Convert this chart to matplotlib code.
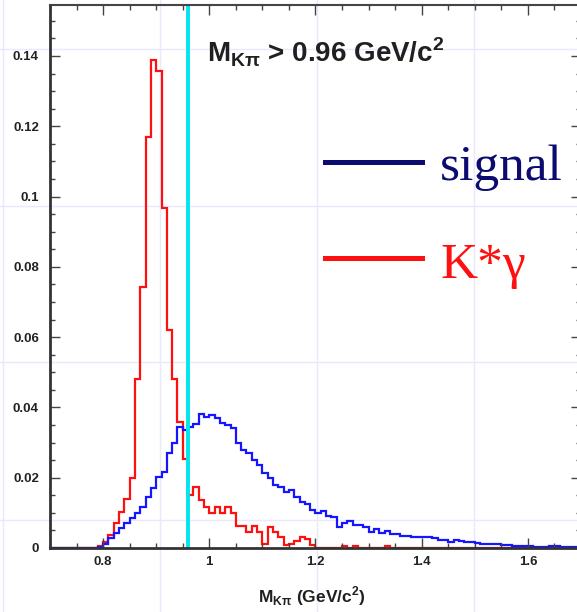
import numpy as np
import matplotlib.pyplot as plt
from matplotlib.lines import Line2D
from matplotlib.ticker import MultipleLocator

# histogram contents: 100 bins of width 0.01 between 0.7 and 1.7
bin_lo, bin_hi, n_bins = 0.7, 1.7, 100

signal = [0.0] * 9 + [
    0.0004, 0.0011, 0.0028, 0.0042, 0.0056, 0.0070, 0.0084, 0.0100, 0.0118, 0.0144,
    0.0170, 0.0201, 0.0217, 0.0271, 0.0298, 0.0345, 0.0336, 0.0345, 0.0353, 0.0381,
    0.0374, 0.0379, 0.0369, 0.0357, 0.0350, 0.0341, 0.0298, 0.0279, 0.0269, 0.0250,
    0.0236, 0.0212, 0.0198, 0.0179, 0.0173, 0.0160, 0.0165, 0.0146, 0.0132, 0.0125,
    0.0108, 0.0100, 0.0105, 0.0092, 0.0087, 0.0061, 0.0070, 0.0078, 0.0065, 0.0065,
    0.0061, 0.0046, 0.0053, 0.0044, 0.0048, 0.0040, 0.0040, 0.0034, 0.0034, 0.0030,
    0.0030, 0.0032, 0.0032, 0.0028, 0.0023, 0.0023, 0.0018, 0.0023, 0.0020, 0.0018,
    0.0018, 0.0013, 0.0011, 0.0011, 0.0011, 0.0010, 0.0009, 0.0008, 0.0006, 0.0006,
    0.0006, 0.0005, 0.0004, 0.0004, 0.0004, 0.0005, 0.0005, 0.0003, 0.0002, 0.0002,
    0.0002]

kstar_gamma = [0.0] * 9 + [
    0.0006, 0.0016, 0.0037, 0.0070, 0.0102, 0.0139, 0.0200, 0.0480, 0.0743, 0.1170,
    0.1388, 0.1357, 0.0967, 0.0620, 0.0482, 0.0359, 0.0253, 0.0152, 0.0174, 0.0137,
    0.0116, 0.0100, 0.0116, 0.0100, 0.0116, 0.0099, 0.0063, 0.0063, 0.0046, 0.0063,
    0.0046, 0.0012, 0.0059, 0.0046, 0.0032, 0.0009, 0.0012, 0.0020, 0.0032, 0.0025,
    0.0009, 0.0, 0.0, 0.0, 0.0, 0.0, 0.0006, 0.0, 0.0006, 0.0,
    0.0, 0.0, 0.0, 0.0, 0.0006] + [0.0] * 36

cut_value = 0.96
cut_text = r'M$_{\mathregular{K\pi}}$ > 0.96 GeV/c$^{\mathregular{2}}$'
x_title = r'M$_{\mathregular{K\pi}}$ (GeV/c$^{\mathregular{2}}$)'
legend_labels = ['signal', 'K*\u03b3']

x_ticks = [0.8, 1.0, 1.2, 1.4, 1.6]
x_ticklabels = ['0.8', '1', '1.2', '1.4', '1.6']
y_ticks = [0, 0.02, 0.04, 0.06, 0.08, 0.10, 0.12, 0.14]
y_ticklabels = ['0', '0.02', '0.04', '0.06', '0.08', '0.1', '0.12', '0.14']

W, H = 577, 612


def fx(x):
    return x / W


def fy(y):
    return 1 - y / H


plt.rcParams['font.family'] = ['Liberation Sans', 'DejaVu Sans']
fig = plt.figure(figsize=(W / 100, H / 100), dpi=100)

# faint background grid of the slide
for gx in [3, 160, 317, 474]:
    fig.add_artist(Line2D([fx(gx)] * 2, [0, 1], transform=fig.transFigure,
                          color='#e9e9fb', lw=1, zorder=-5))
for gy in [49, 206, 362, 520]:
    fig.add_artist(Line2D([0, 1], [fy(gy)] * 2, transform=fig.transFigure,
                          color='#e9e9fb', lw=1, zorder=-5))

ax = fig.add_axes([fx(50), fy(548), (581 - 50) / W, (548 - 5) / H])
ax.set_facecolor('none')

edges = np.linspace(bin_lo, bin_hi, n_bins + 1)
ax.stairs(kstar_gamma, edges, color='#ff1010', lw=1.6)
ax.stairs(signal, edges, color='#1515ff', lw=1.6)
ax.axvline(cut_value, color='#00e5ee', lw=2.8)

ax.set_xlim(bin_lo, bin_hi)
ax.set_ylim(0, 0.1545)
ax.set_xticks(x_ticks)
ax.set_xticklabels(x_ticklabels)
ax.set_yticks(y_ticks)
ax.set_yticklabels(y_ticklabels)
ax.xaxis.set_minor_locator(MultipleLocator(0.05))
ax.yaxis.set_minor_locator(MultipleLocator(0.005))
ax.tick_params(which='both', direction='in', top=True, right=True, color='#444444', width=1)
ax.tick_params(which='major', length=7)
ax.tick_params(which='minor', length=3.5)
ax.tick_params(axis='x', pad=6)
ax.tick_params(axis='y', pad=8)
for lab in ax.get_xticklabels() + ax.get_yticklabels():
    lab.set_fontsize(9.5)
    lab.set_fontweight('bold')
    lab.set_color('#222222')
for side in ['left', 'bottom']:
    ax.spines[side].set_linewidth(2)
    ax.spines[side].set_color('#333333')
for side in ['top', 'right']:
    ax.spines[side].set_linewidth(1.5)
    ax.spines[side].set_color('#444444')

# texts
fig.text(fx(207), fy(62), cut_text, fontsize=20, fontweight='bold', color='#202020', va='baseline')
fig.text(fx(258), fy(602), x_title, fontsize=12.5, fontweight='bold', color='#202020', va='baseline')

# hand-made legend
fig.add_artist(Line2D([fx(325), fx(422)], [fy(162)] * 2, transform=fig.transFigure,
                      color='#0c0c70', lw=3.6))
fig.add_artist(Line2D([fx(325), fx(422)], [fy(258)] * 2, transform=fig.transFigure,
                      color='#ff1010', lw=3.6))
fig.text(fx(440), fy(180), legend_labels[0], family='Liberation Serif', fontsize=37,
         color='#0c0c70', va='baseline')
fig.text(fx(440), fy(278), legend_labels[1], family='Liberation Serif', fontsize=37,
         color='#ff1010', va='baseline')

plt.savefig('out.png', dpi=100)
